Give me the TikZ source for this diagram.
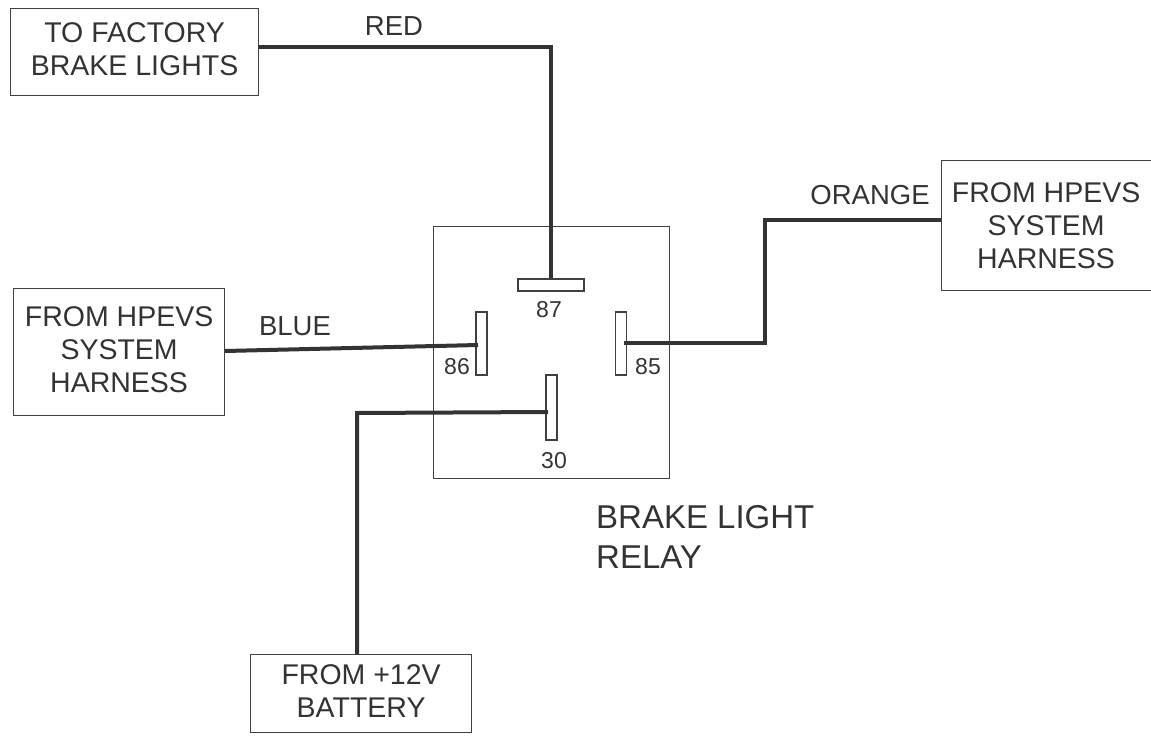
\documentclass[tikz,border=0pt]{standalone}
\usepackage{fontspec}
\setmainfont{Liberation Sans}
\usepackage{tikz}

\begin{document}
\begin{tikzpicture}[x=1pt,y=-1pt]
          \tikzstyle{box} = [draw=black!75, line width=1.2pt, align=center, font=\fontsize{28.5}{33}\selectfont, inner sep=0pt, anchor=north west, text=black!80]
          \tikzstyle{pin} = [draw=black!75, fill=white, line width=1.1pt, inner sep=0pt, minimum size=0pt]
          \tikzstyle{wire} = [draw=black!80, line width=4pt]
          \tikzstyle{label} = [font=\fontsize{27.5}{33}\selectfont, text=black!80, inner sep=0pt]
          \tikzstyle{num} = [font=\fontsize{23}{27}\selectfont, text=black!80, inner sep=0pt]
        \useasboundingbox (0,0) rectangle (1151,741);
        \node[draw=black!75, line width=1.2pt, minimum width=236pt, minimum height=252pt, inner sep=0pt, anchor=north west] (relay) at (433,226) {};
        \node[box, minimum width=248pt, minimum height=87pt] (lights) at (10,8) {TO FACTORY\\BRAKE LIGHTS\\[-27pt]\mbox{}};
        \node[box, minimum width=211pt, minimum height=127pt] (left) at (13,288) {FROM HPEVS\\SYSTEM\\HARNESS\\[-28pt]\mbox{}};
        \node[box, minimum width=210pt, minimum height=130pt] (right) at (940.5,160) {FROM HPEVS\\SYSTEM\\HARNESS};
        \node[box, minimum width=221pt, minimum height=78pt] (battery) at (250,654) {FROM +12V\\BATTERY\\[-27pt]\mbox{}};

        \node[pin, minimum width=66pt, minimum height=12pt] (p87) at (551,285) {};
        \node[pin, minimum width=11pt, minimum height=63pt] (p86) at (481.5,343.5) {};
        \node[pin, minimum width=11pt, minimum height=63pt] (p85) at (621,343.5) {};
        \node[pin, minimum width=11pt, minimum height=65pt] (p30) at (551.5,407.5) {};

        \node[num] at (549,310) {87};
        \node[num] at (457,367) {86};
        \node[num] at (648,367) {85};
        \node[num] at (554,461) {30};

        \node[label] at (394,26) {RED};
        \node[label] at (295,326) {BLUE};
        \node[label] at (870,195) {ORANGE};
        \node[font=\fontsize{33}{40}\selectfont, text=black!80, align=left, inner sep=0pt, anchor=north west] (name) at (596,505) {BRAKE LIGHT\\RELAY};

        \coordinate (c1) at (551,47);
        \coordinate (c2) at (765,220);
        \coordinate (c3) at (765,343);
        \coordinate (c4) at (357,413);
        \coordinate (e86) at (478,345);
        \coordinate (e85) at (624,343);
        \coordinate (e30) at (548,412);
        \draw[wire] (lights.east |- 0,47) -- (c1) -- (p87.north -| c1);
        \draw[wire] (left.east |- 0,351) -- (e86);
        \draw[wire] (e85) -- (c3) -- (c2) -- (right.west |- c2);
        \draw[wire] (battery.north -| c4) -- (c4) -- (e30);
\end{tikzpicture}
\end{document}
